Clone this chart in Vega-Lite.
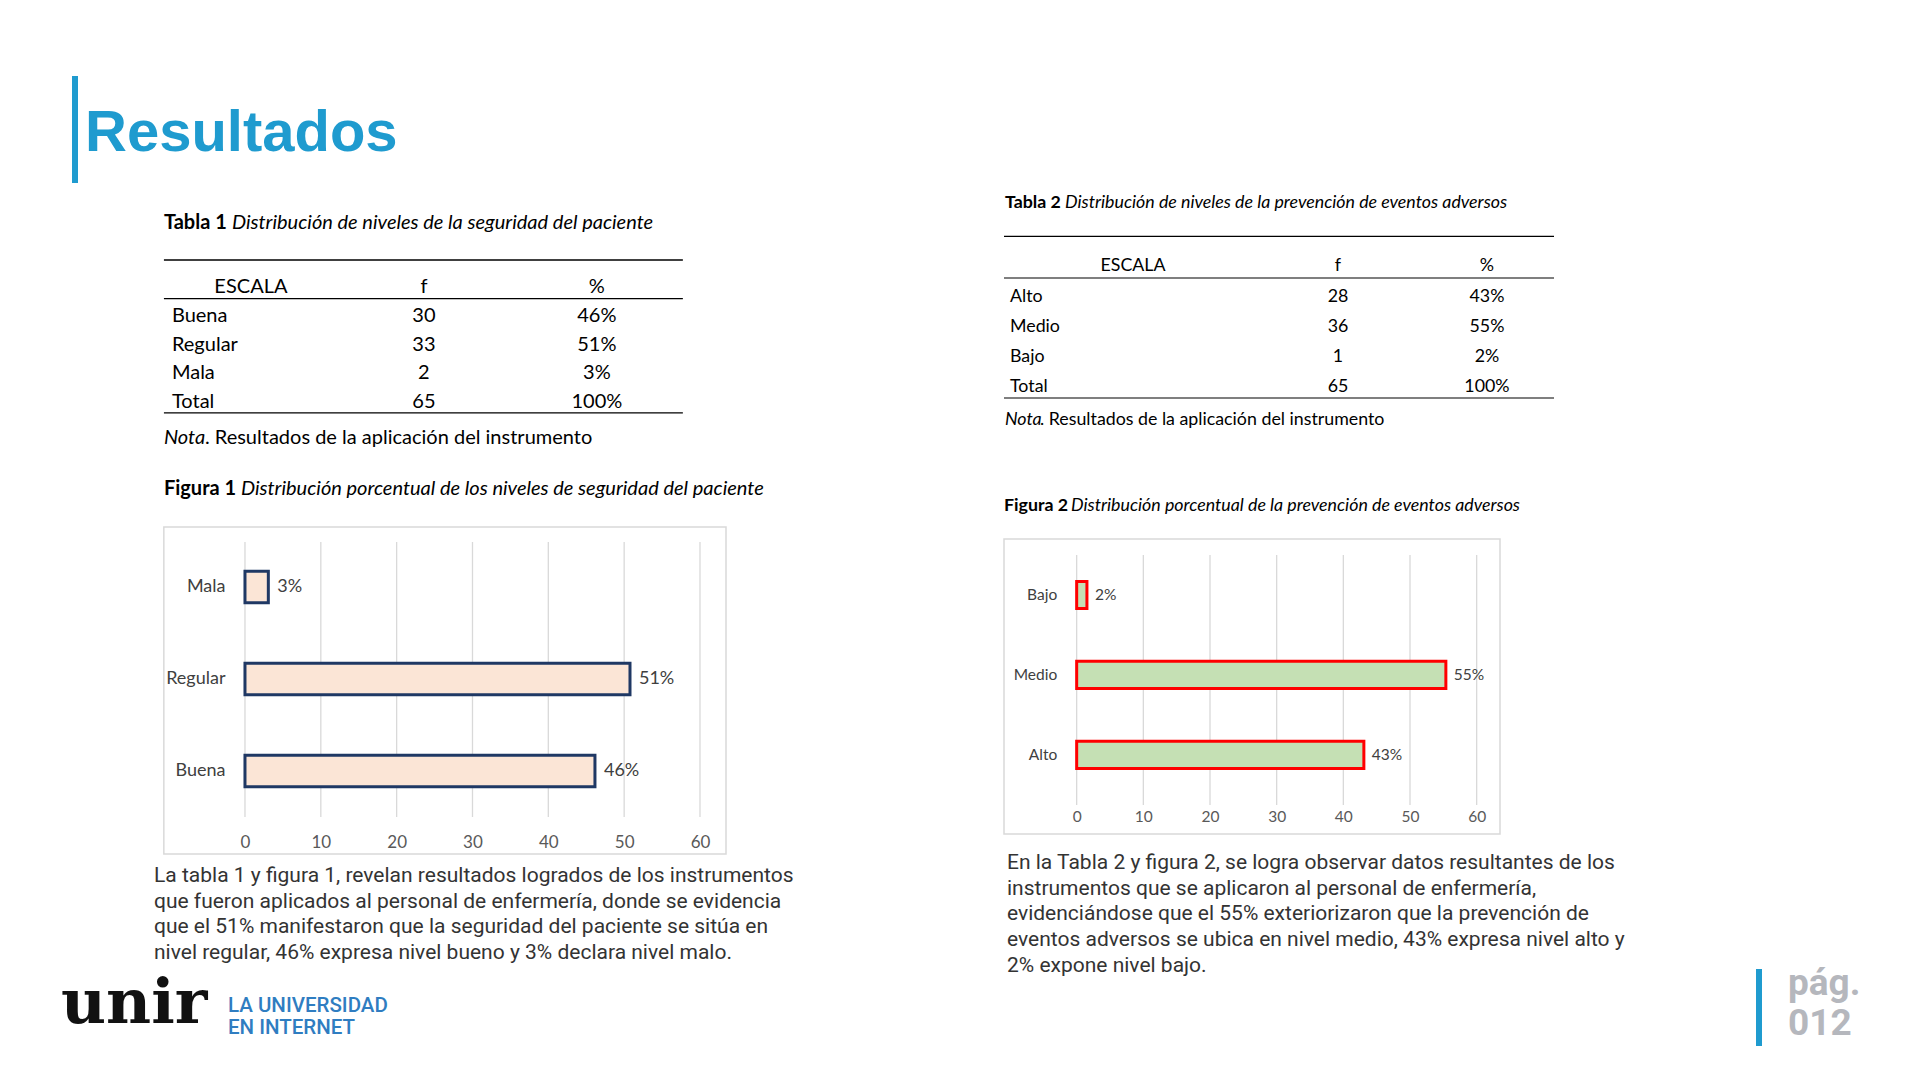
{
  "$schema": "https://vega.github.io/schema/vega-lite/v6.json",
  "background": "white",
  "padding": {"left": 61, "top": 73, "right": 0, "bottom": 0},
  "autosize": {"type": "pad"},
  "config": {
    "view": {"stroke": null},
    "text": {"font": "Lato", "color": "#000000"},
    "axis": {"labelFont": "Lato"}
  },
  "datasets": {
    "t1": [
      {"escala": "Buena", "f": 30, "pct": 46.15, "label": "46%"},
      {"escala": "Regular", "f": 33, "pct": 50.77, "label": "51%"},
      {"escala": "Mala", "f": 2, "pct": 3.08, "label": "3%"},
      {"escala": "Total", "f": 65, "pct": 100, "label": "100%"}
    ],
    "t2": [
      {"escala": "Alto", "f": 28, "pct": 43.08, "label": "43%"},
      {"escala": "Medio", "f": 36, "pct": 55.38, "label": "55%"},
      {"escala": "Bajo", "f": 1, "pct": 1.54, "label": "2%"},
      {"escala": "Total", "f": 65, "pct": 100, "label": "100%"}
    ],
    "ticks": [{"v": 0}, {"v": 10}, {"v": 20}, {"v": 30}, {"v": 40}, {"v": 50}, {"v": 60}],
    "hdr": [{"h": "ESCALA"}, {"h": "f"}, {"h": "%"}],
    "one": [{"k": 1}],
    "none": []
  },
  "spacing": 142,
  "hconcat": [
    {
      "bounds": "flush",
      "spacing": 0,
      "vconcat": [
        {
          "width": 800, "height": 107,
          "view": {"fill": "white", "stroke": null},
          "data": {"name": "one"},
          "encoding": {
            "x": {"datum": 0, "type": "quantitative", "scale": {"domain": [0, 1]}, "axis": null},
            "y": {"datum": 1, "type": "quantitative", "scale": {"domain": [0, 1]}, "axis": null}
          },
          "layer": [
            {"mark": {"type": "rule", "color": "#1f9bcf", "strokeWidth": 6, "xOffset": 14}, "encoding": {"y": null}},
            {"mark": {"type": "text", "text": "Resultados", "align": "left", "baseline": "alphabetic", "font": "Liberation Sans", "fontWeight": "bold", "fontSize": 58, "color": "#1f9bcf", "dx": 24, "dy": 75}}
          ]
        },
        {
          "width": 622, "height": 344,
          "layer": [
            {
              "data": {"name": "hdr"},
              "mark": {"type": "text", "fontSize": 20, "baseline": "middle"},
              "encoding": {
                "x": {"field": "h", "type": "nominal", "scale": {"type": "point", "domain": ["ESCALA", "f", "%"], "padding": 0.798, "align": 0.688}, "axis": null},
                "y": {"datum": "ESCALA", "type": "nominal", "scale": {"type": "point", "domain": ["_0", "_1", "_2", "ESCALA", "Buena", "Regular", "Mala", "Total", "_8", "_9", "_10", "_11"], "padding": 0.472, "align": 0.647}, "axis": null},
                "text": {"field": "h"}
              }
            },
            {
              "data": {"name": "t1"},
              "mark": {"type": "text", "fontSize": 20, "baseline": "middle", "align": "left", "dx": -79},
              "encoding": {"x": {"datum": "ESCALA", "type": "nominal"}, "y": {"field": "escala", "type": "nominal"}, "text": {"field": "escala"}}
            },
            {
              "data": {"name": "t1"},
              "mark": {"type": "text", "fontSize": 20, "baseline": "middle"},
              "encoding": {"x": {"datum": "f", "type": "nominal"}, "y": {"field": "escala", "type": "nominal"}, "text": {"field": "f"}}
            },
            {
              "data": {"name": "t1"},
              "mark": {"type": "text", "fontSize": 20, "baseline": "middle"},
              "encoding": {"x": {"datum": "%", "type": "nominal"}, "y": {"field": "escala", "type": "nominal"}, "text": {"field": "label"}}
            },
            {
              "data": {"name": "one"},
              "mark": {"type": "rule", "color": "#000000", "strokeWidth": 1.3, "yOffset": -27, "xOffset": -87, "x2Offset": 86},
              "encoding": {"x": {"datum": "ESCALA", "type": "nominal"}, "x2": {"datum": "%"}, "y": {"datum": "ESCALA", "type": "nominal"}}
            },
            {
              "data": {"name": "one"},
              "mark": {"type": "rule", "color": "#000000", "strokeWidth": 1.3, "yOffset": 11.7, "xOffset": -87, "x2Offset": 86},
              "encoding": {"x": {"datum": "ESCALA", "type": "nominal"}, "x2": {"datum": "%"}, "y": {"datum": "ESCALA", "type": "nominal"}}
            },
            {
              "data": {"name": "one"},
              "mark": {"type": "rule", "color": "#000000", "strokeWidth": 1.3, "yOffset": 10.7, "xOffset": -87, "x2Offset": 86},
              "encoding": {"x": {"datum": "ESCALA", "type": "nominal"}, "x2": {"datum": "%"}, "y": {"datum": "Total", "type": "nominal"}}
            },
            {
              "data": {"name": "one"},
              "mark": {"type": "text", "text": "Tabla 1", "fontWeight": "bold", "fontSize": 20, "align": "left", "baseline": "middle", "dx": -87, "dy": -64},
              "encoding": {"x": {"datum": "ESCALA", "type": "nominal"}, "y": {"datum": "ESCALA", "type": "nominal"}}
            },
            {
              "data": {"name": "one"},
              "mark": {"type": "text", "text": "Distribución de niveles de la seguridad del paciente", "fontStyle": "italic", "fontSize": 20, "align": "left", "baseline": "middle", "dx": -19, "dy": -64},
              "encoding": {"x": {"datum": "ESCALA", "type": "nominal"}, "y": {"datum": "ESCALA", "type": "nominal"}}
            },
            {
              "data": {"name": "one"},
              "mark": {"type": "text", "text": "Nota", "fontStyle": "italic", "fontSize": 20, "align": "left", "baseline": "middle", "dx": -87, "dy": 151.5},
              "encoding": {"x": {"datum": "ESCALA", "type": "nominal"}, "y": {"datum": "ESCALA", "type": "nominal"}}
            },
            {
              "data": {"name": "one"},
              "mark": {"type": "text", "text": ". Resultados de la aplicación del instrumento", "fontSize": 20, "align": "left", "baseline": "middle", "dx": -46, "dy": 151.5},
              "encoding": {"x": {"datum": "ESCALA", "type": "nominal"}, "y": {"datum": "ESCALA", "type": "nominal"}}
            },
            {
              "data": {"name": "one"},
              "mark": {"type": "text", "text": "Figura 1", "fontWeight": "bold", "fontSize": 20, "align": "left", "baseline": "middle", "dx": -87, "dy": 202},
              "encoding": {"x": {"datum": "ESCALA", "type": "nominal"}, "y": {"datum": "ESCALA", "type": "nominal"}}
            },
            {
              "data": {"name": "one"},
              "mark": {"type": "text", "text": "Distribución porcentual de los niveles de seguridad del paciente", "fontStyle": "italic", "fontSize": 20, "align": "left", "baseline": "middle", "dx": -10, "dy": 202},
              "encoding": {"x": {"datum": "ESCALA", "type": "nominal"}, "y": {"datum": "ESCALA", "type": "nominal"}}
            }
          ]
        },
        {
          "width": 665, "height": 327,
          "layer": [
            {
              "data": {"name": "one"},
              "mark": {"type": "rect", "fill": null, "fillOpacity": 0, "stroke": "#d9d9d9", "strokeWidth": 1.5},
              "encoding": {"x": {"datum": -10.7, "type": "quantitative"}, "x2": {"datum": 63.43}}
            },
            {
              "data": {"name": "ticks"},
              "mark": {"type": "rule", "color": "#d9d9d9", "strokeWidth": 1.3, "yOffset": -45, "y2Offset": 46},
              "encoding": {
                "x": {"field": "v", "type": "quantitative"},
                "y": {"datum": "Mala", "type": "nominal"},
                "y2": {"datum": "Buena"}
              }
            },
            {
              "data": {"name": "t1"},
              "transform": [{"filter": "datum.escala != 'Total'"}],
              "mark": {"type": "bar", "fill": "#fbe5d6", "stroke": "#1f3864", "strokeWidth": 3},
              "encoding": {
                "x": {"field": "pct", "type": "quantitative", "scale": {"domain": [-24.26, 63.43], "nice": false, "zero": false},
                  "axis": {"values": [0, 10, 20, 30, 40, 50, 60], "grid": false, "domain": false, "ticks": false, "title": null, "offset": -12, "labelPadding": 0, "labelBaseline": "middle", "labelFontSize": 17, "labelColor": "#595959", "labelFlush": false}},
                "x2": {"datum": 0},
                "y": {"field": "escala", "type": "nominal", "scale": {"type": "band", "domain": ["Mala", "Regular", "Buena"], "paddingInner": 0.66, "paddingOuter": 0.607, "align": 0.397},
                  "axis": {"title": null, "domain": false, "ticks": false, "offset": -184, "labelPadding": 20, "labelFontSize": 18, "labelColor": "#404040"}}
              }
            },
            {
              "data": {"name": "t1"},
              "transform": [{"filter": "datum.escala != 'Total'"}],
              "mark": {"type": "text", "align": "left", "baseline": "middle", "dx": 9, "fontSize": 18, "color": "#404040"},
              "encoding": {
                "x": {"field": "pct", "type": "quantitative"},
                "y": {"field": "escala", "type": "nominal"},
                "text": {"field": "label"}
              }
            }
          ]
        },
        {
          "width": 740, "height": 115,
          "data": {"name": "one"},
          "mark": {"type": "text", "font": "Roboto", "fontSize": 21, "color": "#333333", "align": "left", "baseline": "top", "lineHeight": 25.7, "dx": 93, "dy": 11,
            "text": ["La tabla 1 y figura 1, revelan resultados logrados de los instrumentos", "que fueron aplicados al personal de enfermería, donde se evidencia", "que el 51% manifestaron que la seguridad del paciente se sitúa en", "nivel regular, 46% expresa nivel bueno y 3% declara nivel malo."]},
          "encoding": {
            "x": {"datum": 0, "type": "quantitative", "scale": {"domain": [0, 1]}, "axis": null},
            "y": {"datum": 1, "type": "quantitative", "scale": {"domain": [0, 1]}, "axis": null}
          }
        },
        {
          "width": 740, "height": 77,
          "data": {"name": "one"},
          "encoding": {
            "x": {"datum": 0, "type": "quantitative", "scale": {"domain": [0, 1]}, "axis": null},
            "y": {"datum": 1, "type": "quantitative", "scale": {"domain": [0, 1]}, "axis": null}
          },
          "layer": [
            {"mark": {"type": "text", "text": "unir", "font": "DejaVu Serif", "fontWeight": "bold", "fontSize": 62, "color": "#111111", "align": "left", "baseline": "alphabetic", "dx": 0, "dy": 54}},
            {"mark": {"type": "text", "text": "LA UNIVERSIDAD", "font": "Roboto", "fontWeight": 500, "fontSize": 20.5, "color": "#2f7dc1", "align": "left", "baseline": "alphabetic", "dx": 167, "dy": 43}},
            {"mark": {"type": "text", "text": "EN INTERNET", "font": "Roboto", "fontWeight": 500, "fontSize": 20.5, "color": "#2f7dc1", "align": "left", "baseline": "alphabetic", "dx": 167, "dy": 65}}
          ]
        }
      ]
    },
    {
      "bounds": "flush",
      "spacing": 0,
      "vconcat": [
        {"width": 1, "height": 107, "data": {"name": "none"}, "mark": "point"},
        {
          "width": 550, "height": 356,
          "layer": [
            {
              "data": {"name": "one"},
              "mark": {"type": "text", "text": "ESCALA", "fontSize": 17.8, "baseline": "middle"},
              "encoding": {
                "x": {"datum": "ESCALA", "type": "nominal", "scale": {"type": "point", "domain": ["ESCALA", "f", "%"], "padding": 0.554, "align": 0.658}, "axis": null},
                "y": {"datum": "ESCALA", "type": "nominal", "scale": {"type": "point", "domain": ["_0", "_1", "ESCALA", "Alto", "Medio", "Bajo", "Total", "_7", "_8", "_9", "_10"], "padding": 0.884, "align": 0.426}, "axis": null}
              }
            },
            {
              "data": {"name": "one"},
              "mark": {"type": "text", "text": "f", "fontSize": 17.8, "baseline": "middle", "dx": 28},
              "encoding": {"x": {"datum": "f", "type": "nominal"}, "y": {"datum": "ESCALA", "type": "nominal"}}
            },
            {
              "data": {"name": "one"},
              "mark": {"type": "text", "text": "%", "fontSize": 17.8, "baseline": "middle"},
              "encoding": {"x": {"datum": "%", "type": "nominal"}, "y": {"datum": "ESCALA", "type": "nominal"}}
            },
            {
              "data": {"name": "t2"},
              "mark": {"type": "text", "fontSize": 17.8, "baseline": "middle", "align": "left", "dx": -123},
              "encoding": {"x": {"datum": "ESCALA", "type": "nominal"}, "y": {"field": "escala", "type": "nominal"}, "text": {"field": "escala"}}
            },
            {
              "data": {"name": "t2"},
              "mark": {"type": "text", "fontSize": 17.8, "baseline": "middle", "dx": 28},
              "encoding": {"x": {"datum": "f", "type": "nominal"}, "y": {"field": "escala", "type": "nominal"}, "text": {"field": "f"}}
            },
            {
              "data": {"name": "t2"},
              "mark": {"type": "text", "fontSize": 17.8, "baseline": "middle"},
              "encoding": {"x": {"datum": "%", "type": "nominal"}, "y": {"field": "escala", "type": "nominal"}, "text": {"field": "label"}}
            },
            {
              "data": {"name": "one"},
              "mark": {"type": "rule", "color": "#000000", "strokeWidth": 1.2, "yOffset": -30},
              "encoding": {"y": {"datum": "ESCALA", "type": "nominal"}}
            },
            {
              "data": {"name": "one"},
              "mark": {"type": "rule", "color": "#000000", "strokeWidth": 1.2, "yOffset": 11.7},
              "encoding": {"y": {"datum": "ESCALA", "type": "nominal"}}
            },
            {
              "data": {"name": "one"},
              "mark": {"type": "rule", "color": "#000000", "strokeWidth": 1.2, "yOffset": 10.7},
              "encoding": {"y": {"datum": "Total", "type": "nominal"}}
            },
            {
              "data": {"name": "one"},
              "mark": {"type": "text", "text": "Tabla 2", "fontWeight": "bold", "fontSize": 17.8, "align": "left", "baseline": "middle", "dx": -128, "dy": -63.5},
              "encoding": {"x": {"datum": "ESCALA", "type": "nominal"}, "y": {"datum": "ESCALA", "type": "nominal"}}
            },
            {
              "data": {"name": "one"},
              "mark": {"type": "text", "text": "Distribución de niveles de la prevención de eventos adversos", "fontStyle": "italic", "fontSize": 17.8, "align": "left", "baseline": "middle", "dx": -68, "dy": -63.5},
              "encoding": {"x": {"datum": "ESCALA", "type": "nominal"}, "y": {"datum": "ESCALA", "type": "nominal"}}
            },
            {
              "data": {"name": "one"},
              "mark": {"type": "text", "text": "Nota", "fontStyle": "italic", "fontSize": 17.8, "align": "left", "baseline": "middle", "dx": -128, "dy": 154},
              "encoding": {"x": {"datum": "ESCALA", "type": "nominal"}, "y": {"datum": "ESCALA", "type": "nominal"}}
            },
            {
              "data": {"name": "one"},
              "mark": {"type": "text", "text": ". Resultados de la aplicación del instrumento", "fontSize": 17.8, "align": "left", "baseline": "middle", "dx": -93, "dy": 154},
              "encoding": {"x": {"datum": "ESCALA", "type": "nominal"}, "y": {"datum": "ESCALA", "type": "nominal"}}
            },
            {
              "data": {"name": "one"},
              "mark": {"type": "text", "text": "Figura 2", "fontWeight": "bold", "fontSize": 17.8, "align": "left", "baseline": "middle", "dx": -129, "dy": 240},
              "encoding": {"x": {"datum": "ESCALA", "type": "nominal"}, "y": {"datum": "ESCALA", "type": "nominal"}}
            },
            {
              "data": {"name": "one"},
              "mark": {"type": "text", "text": "Distribución porcentual de la prevención de eventos adversos", "fontStyle": "italic", "fontSize": 17.8, "align": "left", "baseline": "middle", "dx": -62, "dy": 240},
              "encoding": {"x": {"datum": "ESCALA", "type": "nominal"}, "y": {"datum": "ESCALA", "type": "nominal"}}
            }
          ]
        },
        {
          "width": 496, "height": 295,
          "view": {"stroke": "#d9d9d9", "strokeWidth": 1.5},
          "layer": [
            {
              "data": {"name": "ticks"},
              "mark": {"type": "rule", "color": "#d9d9d9", "strokeWidth": 1.3, "yOffset": -40, "y2Offset": 50},
              "encoding": {
                "x": {"field": "v", "type": "quantitative"},
                "y": {"datum": "Bajo", "type": "nominal"},
                "y2": {"datum": "Alto"}
              }
            },
            {
              "data": {"name": "t2"},
              "transform": [{"filter": "datum.escala != 'Total'"}],
              "mark": {"type": "bar", "fill": "#c5e0b4", "stroke": "#ff0000", "strokeWidth": 3},
              "encoding": {
                "x": {"field": "pct", "type": "quantitative", "scale": {"domain": [-10.9, 63.5], "nice": false, "zero": false},
                  "axis": {"values": [0, 10, 20, 30, 40, 50, 60], "grid": false, "domain": false, "ticks": false, "title": null, "offset": -18, "labelPadding": 0, "labelBaseline": "middle", "labelFontSize": 15.5, "labelColor": "#595959", "labelFlush": false}},
                "x2": {"datum": 0},
                "y": {"field": "escala", "type": "nominal", "scale": {"type": "band", "domain": ["Bajo", "Medio", "Alto"], "paddingInner": 0.66, "paddingOuter": 0.674, "align": 0.393},
                  "axis": {"title": null, "domain": false, "ticks": false, "offset": -72.7, "labelPadding": 20, "labelFontSize": 15.5, "labelColor": "#404040"}}
              }
            },
            {
              "data": {"name": "t2"},
              "transform": [{"filter": "datum.escala != 'Total'"}],
              "mark": {"type": "text", "align": "left", "baseline": "middle", "dx": 8, "fontSize": 15.5, "color": "#404040"},
              "encoding": {
                "x": {"field": "pct", "type": "quantitative"},
                "y": {"field": "escala", "type": "nominal"},
                "text": {"field": "label"}
              }
            }
          ]
        },
        {
          "width": 640, "height": 135,
          "data": {"name": "one"},
          "mark": {"type": "text", "font": "Roboto", "fontSize": 21, "color": "#333333", "align": "left", "baseline": "top", "lineHeight": 25.7, "dx": 3, "dy": 18,
            "text": ["En la Tabla 2 y figura 2, se logra observar datos resultantes de los", "instrumentos que se aplicaron al personal de enfermería,", "evidenciándose que el 55% exteriorizaron que la prevención de", "eventos adversos se ubica en nivel medio, 43% expresa nivel alto y", "2% expone nivel bajo."]},
          "encoding": {
            "x": {"datum": 0, "type": "quantitative", "scale": {"domain": [0, 1]}, "axis": null},
            "y": {"datum": 1, "type": "quantitative", "scale": {"domain": [0, 1]}, "axis": null}
          }
        },
        {
          "width": 860, "height": 77,
          "data": {"name": "one"},
          "encoding": {
            "x": {"datum": 0, "type": "quantitative", "scale": {"domain": [0, 1]}, "axis": null},
            "y": {"datum": 1, "type": "quantitative", "scale": {"domain": [0, 1]}, "axis": null}
          },
          "layer": [
            {"mark": {"type": "rule", "color": "#1f9bcf", "strokeWidth": 6, "xOffset": 755}, "encoding": {"y": null}},
            {"mark": {"type": "text", "text": "pág.", "font": "Roboto", "fontWeight": "bold", "fontSize": 37, "color": "#b5b7bd", "align": "left", "baseline": "alphabetic", "dx": 784, "dy": 26}},
            {"mark": {"type": "text", "text": "012", "font": "Roboto", "fontWeight": "bold", "fontSize": 37, "color": "#b5b7bd", "align": "left", "baseline": "alphabetic", "dx": 784, "dy": 66}}
          ]
        }
      ]
    }
  ]
}
